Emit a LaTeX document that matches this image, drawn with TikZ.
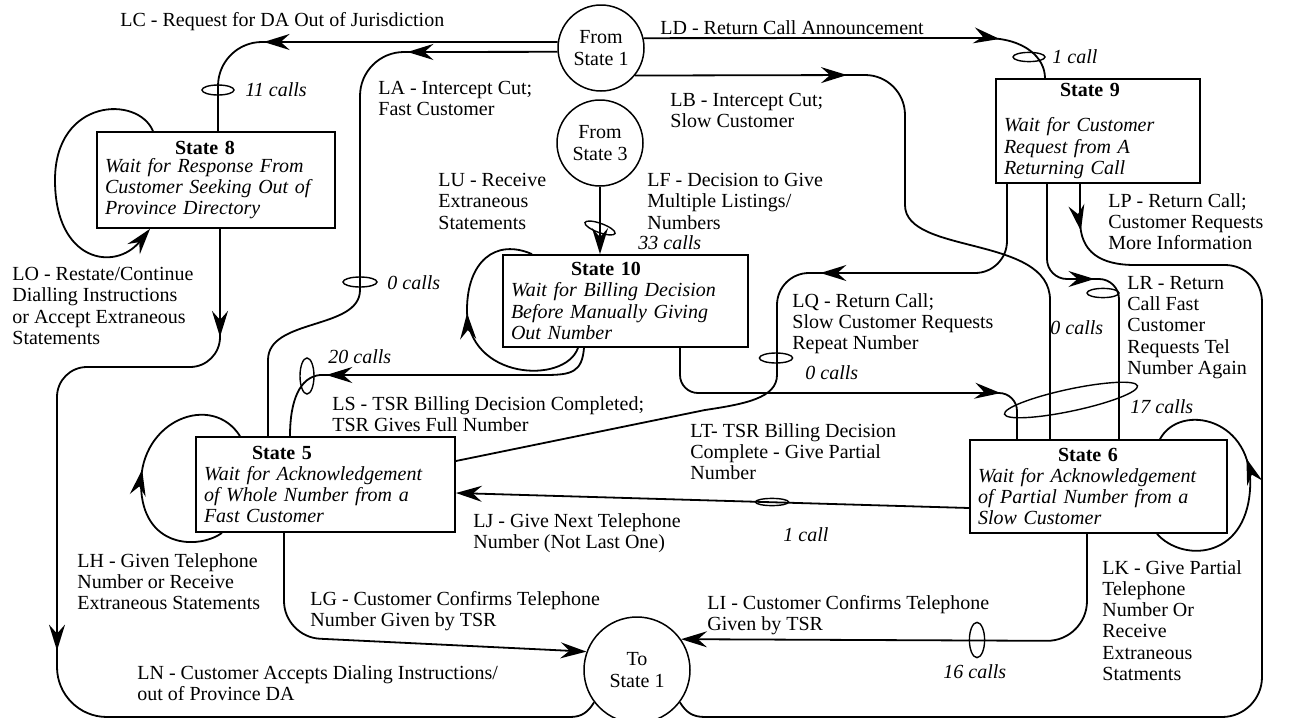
\documentclass[tikz,border=0pt]{standalone}
\usepackage{fontspec}
\setmainfont{Liberation Serif}
\usetikzlibrary{arrows.meta,decorations.markings}

\tikzset{
  >={Stealth[length=13pt,width=8pt,inset=4.5pt]},
  every node/.style={font=\fontsize{10}{10.6}\selectfont},
  link/.style={line width=0.9pt},
  arrowon/.style={postaction={decorate,decoration={markings,mark=at position #1 with {\arrow{>}}}}},
  term/.style={circle,draw,line width=0.75pt,minimum size=#1,inner sep=0pt,align=center},
  statebox/.style={draw,line width=0.9pt,inner xsep=4pt,inner ysep=0pt,align=left},
  tally/.style={line width=0.7pt},
  lbl/.style={anchor=north west,inner sep=0pt,align=left},
  lbl1/.style={anchor=west,inner sep=0pt},
  cnt/.style={anchor=west,inner sep=0pt,font=\fontsize{10}{10.6}\selectfont\itshape},
}

\begin{document}
\begin{tikzpicture}[x=0.5pt,y=-0.5pt]
  \useasboundingbox (0,0) rectangle (1292,718);

  % terminals
  \node[term=43pt] (fs1) at (601,48) {From\\State 1};
  \node[term=43pt] (fs3) at (600,143) {From\\State 3};
  \node[term=53pt] (ts1) at (637,670) {To\\State 1};

  % states
  \node[statebox,minimum width=119pt,minimum height=48pt,text width=111pt] (s8) at (216,180)
    {\hspace*{35pt}\textbf{State 8}\\[-1.5pt]\textit{Wait for Response From}\\\textit{Customer Seeking Out of}\\\textit{Province Directory}};
  \node[statebox,minimum width=102pt,minimum height=52pt,text width=94pt] (s9) at (1098,131)
    {\hspace*{28pt}\textbf{State 9}\\[7pt]\textit{Wait for Customer}\\\textit{Request from A}\\\textit{Returning Call}};
  \node[statebox,minimum width=122.5pt,minimum height=46pt,text width=114.5pt] (s10) at (625.5,301)
    {\hspace*{30pt}\textbf{State 10}\\\textit{Wait for Billing Decision}\\\textit{Before Manually Giving}\\\textit{Out Number}};
  \node[statebox,minimum width=129.5pt,minimum height=47.5pt,text width=121.5pt] (s5) at (325.5,484.5)
    {\hspace*{24pt}\textbf{State 5}\\\textit{Wait for Acknowledgement}\\\textit{of Whole Number from a}\\\textit{Fast Customer}};
  \node[statebox,minimum width=128.5pt,minimum height=46.5pt,text width=120.5pt] (s6) at (1098.5,486.5)
    {\hspace*{40pt}\textbf{State 6}\\\textit{Wait for Acknowledgement}\\\textit{of Partial Number from a}\\\textit{Slow Customer}};

  % transitions
  \draw[link,rounded corners=22pt,arrowon=147pt] (fs1.172) -- (218,42) -- (s8.north -| 218,0);
  \draw[link,arrowon=75pt] (fs1.185) -- (404,52) to[out=180,in=90] (360,96) -- (360,290)
    .. controls (360,330) and (268,318) .. (268,360) -- (s5.north -| 268,0);
  \draw[link,arrowon=106pt] (fs1.-39) -- (865,75) to[out=0,in=90] (905,115) -- (905,205)
    .. controls (905,255) and (1050,235) .. (1050,300) -- (s6.north -| 1050,0);
  \draw[link,arrowon=178pt] (fs1.13) -- (985,38) .. controls (1025,38) and (1045,58) .. (s9.north -| 1045,0);
  \draw[link,->] (fs3.south) -- (fs3.south |- s10.north);

  \draw[link,arrowon=0.58] (s10.south -| 578,0) .. controls (565,385) and (467,380) .. (467,310)
    .. controls (467,262) and (495,238) .. (s10.north -| 532,0);
  \draw[link,arrowon=137pt] (s10.south -| 584,0) .. controls (582,372) and (572,375) .. (545,375)
    -- (320,375) .. controls (300,377) and (290,400) .. (s5.north -| 290,0);
  \draw[link,rounded corners=9pt,arrowon=179pt] (s10.south -| 680,0) -- (680,393) -- (1017,393) -- (s6.north -| 1017,0);

  \draw[link,arrowon=131pt] (s9.south -| 1007,0) -- (1007,241) to[out=-90,in=0] (975,273) -- (809,273)
    to[out=180,in=90] (777,305) -- (777,375) .. controls (777,398) and (745,404) .. (705,410) -- (s5.east |- 0,461);
  \draw[link,rounded corners=10pt,arrowon=67pt] (s9.south -| 1047,0) -- (1047,279) -- (1119,279) -- (s6.north -| 1119,0);
  \draw[link,arrowon=23.5pt] (s9.south -| 1080,0) -- (1080,220)
    .. controls (1080,252) and (1100,265) .. (1135,265) -- (1225,265) to[out=0,in=90] (1262,302)
    -- (1262,677) to[out=-90,in=0] (1222,717) -- (705,717) .. controls (692,717) and (686,712) .. (ts1.-37);

  \draw[link,arrowon=54pt,arrowon=279.5pt] (s8.south -| 220,0) -- (220,337) to[out=-90,in=0] (190,367) -- (87,367)
    to[out=180,in=90] (57,397) -- (57,667) to[out=-90,in=180] (107,717) -- (570,717)
    .. controls (582,717) and (588,712) .. (ts1.-143);
  \draw[link,->] (s8.north -| 153,0) .. controls (138,95) and (55,98) .. (55,180)
    .. controls (55,262) and (115,272) .. (s8.south -| 150,0);

  \draw[link,arrowon=0.5] (s5.south -| 222,0) .. controls (198,550) and (142,548) .. (141,485)
    .. controls (140,420) and (212,392) .. (s5.north -| 240,0);
  \draw[link,->,rounded corners=18pt] (s5.south -| 284,0) -- (284,637) -- (ts1.160);

  \draw[link,arrowon=0.6] (s6.south -| 1157,0) .. controls (1182,562) and (1245,560) .. (1250,490)
    .. controls (1255,418) and (1180,402) .. (s6.north -| 1160,0);
  \draw[link,->] (s6.west |- 0,508) -- (s5.east |- 0,493);
  \draw[link,->,rounded corners=20pt] (s6.south -| 1087,0) -- (1087,641) -- (ts1.35);

  % call counts
  \draw[tally] (218,90) ellipse [x radius=8pt,y radius=2.5pt];
  \draw[tally] (1029,57) ellipse [x radius=8pt,y radius=2.3pt];
  \draw[tally] (360,282) ellipse [x radius=8.5pt,y radius=2.5pt];
  \draw[tally,rotate around={-20:(600,228)}] (600,228) ellipse [x radius=8pt,y radius=2.3pt];
  \draw[tally] (307,376) ellipse [x radius=3.5pt,y radius=9pt];
  \draw[tally] (776,358) ellipse [x radius=8.3pt,y radius=2.5pt];
  \draw[tally] (1103,293) ellipse [x radius=8pt,y radius=2.3pt];
  \draw[tally,rotate around={12:(1071,400)}] (1071,400) ellipse [x radius=34pt,y radius=5.5pt];
  \draw[tally] (772,502) ellipse [x radius=8.3pt,y radius=1.8pt];
  \draw[tally] (977,640) ellipse [x radius=3.8pt,y radius=8.8pt];

  \node[cnt] (c11) at (245,90) {11 calls};
  \node[cnt] (c1d) at (1052,57) {1 call};
  \node[cnt] (c0a) at (387,283) {0 calls};
  \node[cnt] (c33) at (638,243) {33 calls};
  \node[cnt] (c20) at (328,357) {20 calls};
  \node[cnt] (c0q) at (805,373) {0 calls};
  \node[cnt] (c0b) at (1050,328) {0 calls};
  \node[cnt] (c17) at (1130,407) {17 calls};
  \node[cnt] (c1j) at (783,535) {1 call};
  \node[cnt] (c16) at (943,672) {16 calls};

  % labels
  \node[lbl1] (lc) at (120,22) {LC - Request for DA Out of Jurisdiction};
  \node[lbl] (la) at (378,81) {LA - Intercept Cut;\\Fast Customer};
  \node[lbl1] (ld) at (660,28) {LD - Return Call Announcement};
  \node[lbl] (lb) at (670,93) {LB - Intercept Cut;\\Slow Customer};
  \node[lbl] (lu) at (438,173) {LU - Receive\\Extraneous\\Statements};
  \node[lbl] (lf) at (647,173) {LF - Decision to Give\\Multiple Listings/\\Numbers};
  \node[lbl] (lp) at (1108,193) {LP - Return Call;\\Customer Requests\\More Information};
  \node[lbl] (lo) at (12,267) {LO - Restate/Continue\\Dialling Instructions\\or Accept Extraneous\\Statements};
  \node[lbl] (lq) at (792,293) {LQ - Return Call;\\Slow Customer Requests\\Repeat Number};
  \node[lbl] (lr) at (1127,276) {LR - Return\\Call Fast\\Customer\\Requests Tel\\Number Again};
  \node[lbl] (ls) at (332,396) {LS - TSR Billing Decision Completed;\\TSR Gives Full Number};
  \node[lbl] (lt) at (690,423) {LT- TSR Billing Decision\\Complete - Give Partial\\Number};
  \node[lbl] (lj) at (473,513) {LJ - Give Next Telephone\\Number (Not Last One)};
  \node[lbl] (lh) at (77,553) {LH - Given Telephone\\Number or Receive\\Extraneous Statements};
  \node[lbl] (lg) at (310,591) {LG - Customer Confirms Telephone\\Number Given by TSR};
  \node[lbl] (li) at (707,595) {LI - Customer Confirms Telephone\\Given by TSR};
  \node[lbl] (lk) at (1102,560) {LK - Give Partial\\Telephone\\Number Or\\Receive\\Extraneous\\Statments};
  \node[lbl] (ln) at (137,665) {LN - Customer Accepts Dialing Instructions/\\out of Province DA};
\end{tikzpicture}
\end{document}
